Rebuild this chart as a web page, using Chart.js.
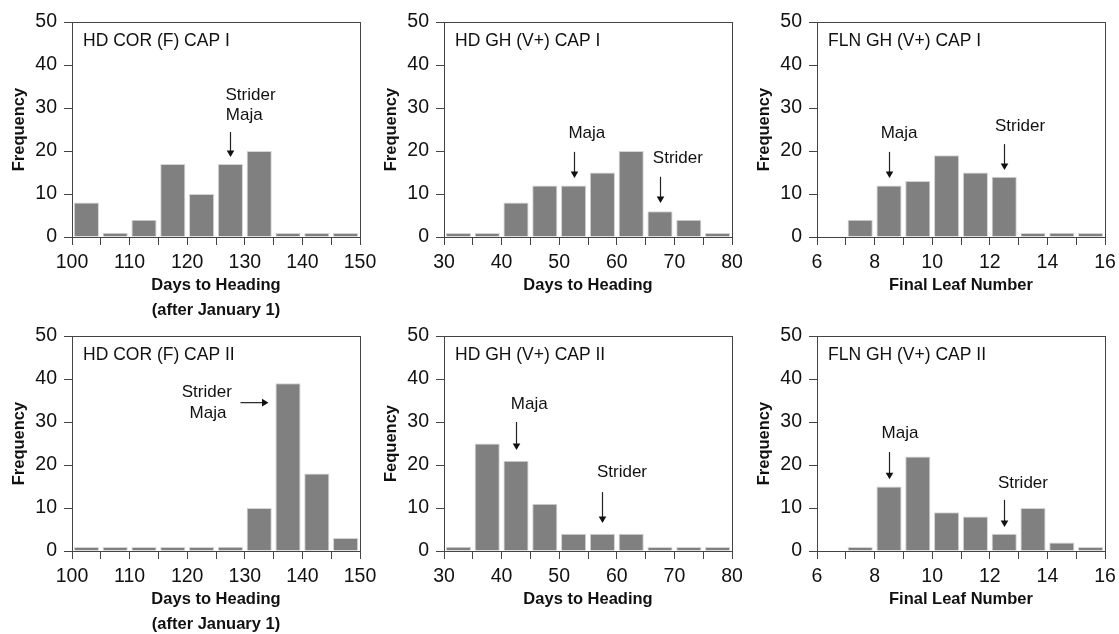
<!DOCTYPE html>
<html lang="en">
<head>
    <meta charset="UTF-8">
    <title>Heading date and final leaf number distributions</title>
    <script src="https://cdn.jsdelivr.net/npm/chart.js"></script>
    <style>
        html, body { margin: 0; padding: 0; background: #fff; overflow: hidden; }
        body { width: 1119px; height: 634px; position: relative; }
        .panel { position: absolute; width: 385px; height: 325px; }
    </style>
</head>
<body>
    <div class="panel" id="p0"><canvas id="c0" width="385" height="325"></canvas></div>
    <div class="panel" id="p1"><canvas id="c1" width="385" height="325"></canvas></div>
    <div class="panel" id="p2"><canvas id="c2" width="385" height="325"></canvas></div>
    <div class="panel" id="p3"><canvas id="c3" width="385" height="325"></canvas></div>
    <div class="panel" id="p4"><canvas id="c4" width="385" height="325"></canvas></div>
    <div class="panel" id="p5"><canvas id="c5" width="385" height="325"></canvas></div>

    <script>
        // bin start values (days after Jan 1 for field, days for greenhouse, leaves)
        const corBins = [100, 105, 110, 115, 120, 125, 130, 135, 140, 145];
        const ghBins = [30, 35, 40, 45, 50, 55, 60, 65, 70, 75];
        const flnBins = [6, 7, 8, 9, 10, 11, 12, 13, 14, 15];

        // frequencies per bin
        const corCap1 = [8, 1, 4, 17, 10, 17, 20, 0, 0, 0];
        const ghCap1 = [0, 0, 8, 12, 12, 15, 20, 6, 4, 0];
        const flnCap1 = [null, 4, 12, 13, 19, 15, 14, 0, 1, 0];
        const corCap2 = [0, 0, 0, 0, 0, 1, 10, 39, 18, 3];
        const ghCap2 = [1, 25, 21, 11, 4, 4, 4, 0, 0, 0];
        const flnCap2 = [null, 0, 15, 22, 9, 8, 4, 10, 2, 0];

        const panelTitles = [
            "HD COR (F) CAP I", "HD GH (V+) CAP I", "FLN GH (V+) CAP I",
            "HD COR (F) CAP II", "HD GH (V+) CAP II", "FLN GH (V+) CAP II"
        ];
        const xTitles = [
            ["Days to Heading", "(after January 1)"], ["Days to Heading"], ["Final Leaf Number"],
            ["Days to Heading", "(after January 1)"], ["Days to Heading"], ["Final Leaf Number"]
        ];
        const yTitles = ["Frequency", "Frequency", "Frequency", "Frequency", "Fequency", "Frequency"];

        // cultivar markers: label positions and arrows in data units
        const cultivarLabels = [
            [{ text: "Strider", x: 131.0, y: 33.0 }, { text: "Maja", x: 129.9, y: 28.4 }],
            [{ text: "Maja", x: 54.8, y: 24.2 }, { text: "Strider", x: 70.6, y: 18.4 }],
            [{ text: "Maja", x: 8.85, y: 24.2 }, { text: "Strider", x: 13.05, y: 25.8 }],
            [{ text: "Strider", x: 123.4, y: 37.0 }, { text: "Maja", x: 123.6, y: 32.0 }],
            [{ text: "Maja", x: 44.8, y: 34.0 }, { text: "Strider", x: 60.9, y: 18.4 }],
            [{ text: "Maja", x: 8.88, y: 27.4 }, { text: "Strider", x: 13.15, y: 15.8 }]
        ];
        const cultivarArrows = [
            [{ x1: 127.5, y1: 24.4, x2: 127.5, y2: 18.6 }],
            [{ x1: 52.5, y1: 19.8, x2: 52.5, y2: 13.7 }, { x1: 67.5, y1: 14.0, x2: 67.5, y2: 7.9 }],
            [{ x1: 8.5, y1: 19.8, x2: 8.5, y2: 13.7 }, { x1: 12.5, y1: 21.6, x2: 12.5, y2: 15.6 }],
            [{ x1: 129.2, y1: 34.5, x2: 134.0, y2: 34.5 }],
            [{ x1: 42.5, y1: 30.0, x2: 42.5, y2: 23.5 }, { x1: 57.5, y1: 13.7, x2: 57.5, y2: 6.5 }],
            [{ x1: 8.5, y1: 23.0, x2: 8.5, y2: 16.7 }, { x1: 12.5, y1: 11.9, x2: 12.5, y2: 5.6 }]
        ];

        const panels = [
            { bins: corBins, width: 5, counts: corCap1, min: 100, max: 150, step: 5, labelEvery: 10 },
            { bins: ghBins, width: 5, counts: ghCap1, min: 30, max: 80, step: 5, labelEvery: 10 },
            { bins: flnBins, width: 1, counts: flnCap1, min: 6, max: 16, step: 1, labelEvery: 2 },
            { bins: corBins, width: 5, counts: corCap2, min: 100, max: 150, step: 5, labelEvery: 10 },
            { bins: ghBins, width: 5, counts: ghCap2, min: 30, max: 80, step: 5, labelEvery: 10 },
            { bins: flnBins, width: 1, counts: flnCap2, min: 6, max: 16, step: 1, labelEvery: 2 }
        ];

        // plot area corners on the page
        const plotLeft = [72, 444, 817];
        const plotTop = [22, 336];

        const FONT = "'Liberation Sans', Arial, Helvetica, sans-serif";

        function drawArrow(ctx, x1, y1, x2, y2) {
            const ang = Math.atan2(y2 - y1, x2 - x1);
            const head = 6.5, half = 3.8;
            ctx.strokeStyle = "#222";
            ctx.fillStyle = "#111";
            ctx.lineWidth = 1.2;
            ctx.beginPath();
            ctx.moveTo(x1, y1);
            ctx.lineTo(x2 - Math.cos(ang) * head * 0.6, y2 - Math.sin(ang) * head * 0.6);
            ctx.stroke();
            ctx.beginPath();
            ctx.moveTo(x2, y2);
            ctx.lineTo(x2 - Math.cos(ang) * head - Math.sin(ang) * half, y2 - Math.sin(ang) * head + Math.cos(ang) * half);
            ctx.lineTo(x2 - Math.cos(ang) * head + Math.sin(ang) * half, y2 - Math.sin(ang) * head - Math.cos(ang) * half);
            ctx.closePath();
            ctx.fill();
        }

        // frame, panel title and cultivar arrows
        const panelDecor = {
            id: "panelDecor",
            afterDraw(chart) {
                const ctx = chart.ctx;
                const a = chart.chartArea;
                const i = chart.options.panelIndex;
                const xs = chart.scales.x, ys = chart.scales.y;
                ctx.save();
                ctx.strokeStyle = "#444";
                ctx.lineWidth = 1;
                ctx.strokeRect(Math.round(a.left) + 0.5, Math.round(a.top) + 0.5,
                    Math.round(a.right - a.left), Math.round(a.bottom - a.top));

                ctx.fillStyle = "#111";
                ctx.font = "17.5px " + FONT;
                ctx.textBaseline = "middle";
                ctx.textAlign = "left";
                ctx.fillText(panelTitles[i], a.left + 11, a.top + 19);

                ctx.font = "17px " + FONT;
                ctx.textAlign = "center";
                cultivarLabels[i].forEach(l => {
                    ctx.fillText(l.text, xs.getPixelForValue(l.x), ys.getPixelForValue(l.y));
                });
                cultivarArrows[i].forEach(r => {
                    drawArrow(ctx,
                        Math.round(xs.getPixelForValue(r.x1)) + 0.5, ys.getPixelForValue(r.y1),
                        Math.round(xs.getPixelForValue(r.x2)) + 0.5, ys.getPixelForValue(r.y2));
                });
                ctx.restore();
            }
        };

        panels.forEach((p, i) => {
            const col = i % 3, row = Math.floor(i / 3);
            const box = document.getElementById("p" + i);
            box.style.left = (plotLeft[col] - 72) + "px";
            box.style.top = (plotTop[row] - 22) + "px";

            const twoLine = xTitles[i].length > 1;
            const points = p.bins.map((b, k) => ({ x: b + p.width / 2, y: p.counts[k] }));

            new Chart(document.getElementById("c" + i), {
                type: "bar",
                data: {
                    datasets: [{
                        data: points,
                        backgroundColor: "#808080",
                        borderColor: "#d4d4d4",
                        borderWidth: 1,
                        minBarLength: 4,
                        barPercentage: 0.97,
                        categoryPercentage: 0.9
                    }]
                },
                plugins: [panelDecor],
                options: {
                    panelIndex: i,
                    responsive: false,
                    animation: false,
                    events: [],
                    layout: { padding: { left: 0, right: 25, top: 22, bottom: 0 } },
                    plugins: { legend: { display: false }, tooltip: { enabled: false } },
                    scales: {
                        x: {
                            type: "linear",
                            min: p.min,
                            max: p.max,
                            offset: false,
                            afterFit(scale) {
                                scale.height = 88;
                                scale.paddingLeft = 0;
                                scale.paddingRight = 0;
                            },
                            grid: { drawOnChartArea: false, drawTicks: true, tickLength: 8, color: "#444", offset: false },
                            border: { color: "#444", width: 1 },
                            ticks: {
                                stepSize: p.step,
                                autoSkip: false,
                                maxRotation: 0,
                                padding: 6,
                                color: "#111",
                                font: { family: FONT, size: 19.5 },
                                callback: v => (Math.round(v) % p.labelEvery === 0 ? String(v) : "")
                            },
                            title: {
                                display: true,
                                text: xTitles[i],
                                color: "#111",
                                font: { family: FONT, size: 16.5, weight: "bold", lineHeight: "25px" },
                                padding: { top: 0, bottom: twoLine ? 2.5 : 27.5 }
                            }
                        },
                        y: {
                            min: 0,
                            max: 50,
                            afterFit(scale) {
                                scale.width = 72;
                                scale.paddingTop = 0;
                                scale.paddingBottom = 0;
                            },
                            grid: { drawOnChartArea: false, drawTicks: true, tickLength: 8, color: "#444" },
                            border: { color: "#444", width: 1 },
                            ticks: {
                                stepSize: 10,
                                padding: 7,
                                color: "#111",
                                font: { family: FONT, size: 19.5 }
                            },
                            title: {
                                display: true,
                                text: yTitles[i],
                                color: "#111",
                                font: { family: FONT, size: 16.5, weight: "bold", lineHeight: "20px" },
                                padding: { top: 9.5, bottom: 0 }
                            }
                        }
                    }
                }
            });
        });
    </script>
</body>
</html>
